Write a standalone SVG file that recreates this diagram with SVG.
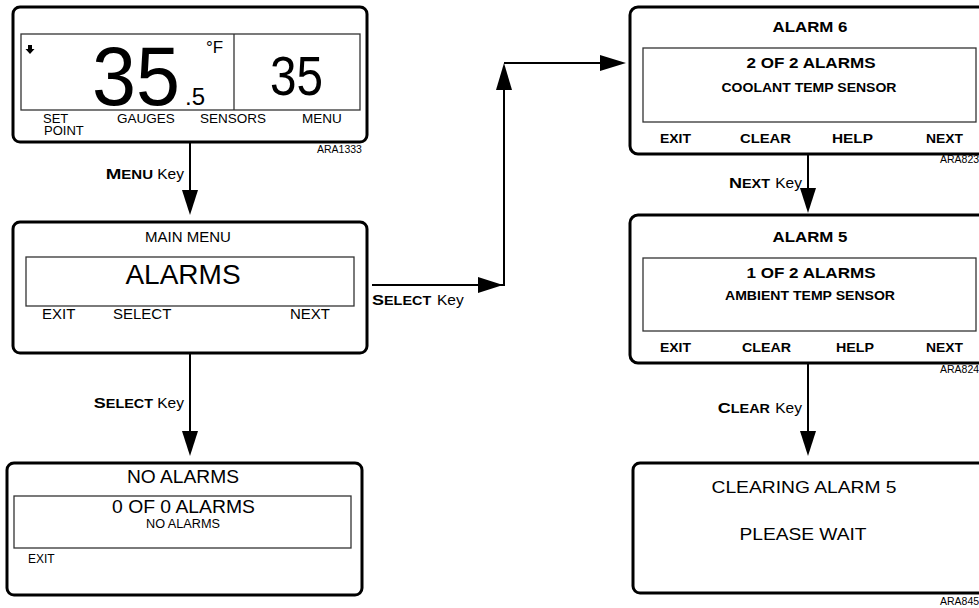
<svg xmlns="http://www.w3.org/2000/svg" width="979" height="608" viewBox="0 0 979 608">
<defs>
<style>
.outer{fill:#fff;stroke:#000;stroke-width:3}
.inner{fill:none;stroke:#333;stroke-width:1.3}
.t{font-family:"Liberation Sans",Arial,sans-serif;fill:#000}
.b{font-weight:bold}
.mid{text-anchor:middle}
.end{text-anchor:end}
.ara{font-family:"Liberation Sans",Arial,sans-serif;font-size:10.5px;fill:#000}
.ln{fill:none;stroke:#000;stroke-width:2}
.head{fill:#000}
.key{font-family:"Liberation Sans",Arial,sans-serif;font-size:15.5px;fill:#000}
.kb{font-family:"Liberation Sans",Arial,sans-serif;font-weight:bold;fill:#000}
.cap{font-size:15px}
.sc{font-size:12px}
</style>
</defs>
<rect width="979" height="608" fill="#fff"/>

<g id="connectors">
  <line class="ln" x1="190" y1="143" x2="190" y2="195"/>
  <polygon class="head" points="182,190 198,190 190,215"/>
  <line class="ln" x1="190" y1="353" x2="190" y2="435"/>
  <polygon class="head" points="182,431 198,431 190,456"/>
  <polyline class="ln" points="372,285 504,285 504,70"/>
  <polygon class="head" points="478,277 478,293 503,285"/>
  <polygon class="head" points="496,90 512,90 504,63"/>
  <line class="ln" x1="504" y1="63" x2="605" y2="63"/>
  <polygon class="head" points="600,55 600,71 626,63"/>
  <line class="ln" x1="808" y1="154" x2="808" y2="192"/>
  <polygon class="head" points="800,188 816,188 808,213"/>
  <line class="ln" x1="808" y1="363" x2="808" y2="436"/>
  <polygon class="head" points="800,431 816,431 808,456"/>

  <text class="kb end" transform="translate(153,179) scale(1.25,1)"><tspan class="cap">M</tspan><tspan class="sc">ENU</tspan></text>
  <text class="key end" x="184" y="179">Key</text>

  <text class="kb end" transform="translate(153,408) scale(1.2,1)"><tspan class="cap">S</tspan><tspan class="sc">ELECT</tspan></text>
  <text class="key end" x="184" y="408">Key</text>

  <text class="kb" transform="translate(372,305) scale(1.2,1)"><tspan class="cap">S</tspan><tspan class="sc">ELECT</tspan></text>
  <text class="key" x="437" y="305">Key</text>

  <text class="kb end" transform="translate(770,188) scale(1.2,1)"><tspan class="cap">N</tspan><tspan class="sc">EXT</tspan></text>
  <text class="key end" x="802" y="188">Key</text>

  <text class="kb end" transform="translate(770,413) scale(1.2,1)"><tspan class="cap">C</tspan><tspan class="sc">LEAR</tspan></text>
  <text class="key end" x="802" y="413">Key</text>
</g>

<g id="display-home">
  <rect class="outer" x="13" y="7" width="354" height="135" rx="7"/>
  <rect class="inner" x="21" y="34" width="339" height="76"/>
  <line class="inner" x1="234" y1="34" x2="234" y2="110"/>
  <polygon fill="#000" points="28,45 32,45 32,49 34.5,49 30,54 25.5,49 28,49"/>
  <text class="t" x="92" y="105" font-size="84" textLength="88" lengthAdjust="spacingAndGlyphs">35</text>
  <text class="t" x="185" y="105" font-size="24">.5</text>
  <text class="t" x="206" y="53" font-size="17">°F</text>
  <text class="t" x="270" y="95" font-size="56" textLength="53" lengthAdjust="spacingAndGlyphs">35</text>
  <text class="t" x="43" y="123" font-size="13">SET</text>
  <text class="t" x="44" y="135" font-size="13">POINT</text>
  <text class="t" x="117" y="123" font-size="13.5">GAUGES</text>
  <text class="t" x="200" y="123" font-size="13.5">SENSORS</text>
  <text class="t" x="302" y="123" font-size="13.5">MENU</text>
  <text class="ara" x="317" y="153">ARA1333</text>
</g>

<g id="main-menu">
  <rect class="outer" x="13" y="222" width="354" height="131" rx="7"/>
  <rect class="inner" x="26" y="257" width="328" height="49"/>
  <text class="t mid" x="188" y="242" font-size="15">MAIN MENU</text>
  <text class="t mid" x="183" y="284" font-size="28">ALARMS</text>
  <text class="t" x="42" y="319" font-size="15">EXIT</text>
  <text class="t" x="113" y="319" font-size="15">SELECT</text>
  <text class="t" x="290" y="319" font-size="15">NEXT</text>
</g>

<g id="no-alarms">
  <rect class="outer" x="7" y="463" width="355" height="132" rx="7"/>
  <rect class="inner" x="14" y="496" width="337" height="52"/>
  <text class="t mid" x="183" y="483" font-size="18" textLength="112" lengthAdjust="spacingAndGlyphs">NO ALARMS</text>
  <text class="t mid" x="183.5" y="513" font-size="18" textLength="143" lengthAdjust="spacingAndGlyphs">0 OF 0 ALARMS</text>
  <text class="t mid" x="183" y="528" font-size="12" textLength="74" lengthAdjust="spacingAndGlyphs">NO ALARMS</text>
  <text class="t" x="28" y="563" font-size="12">EXIT</text>
</g>

<g id="alarm-6">
  <rect class="outer" x="630" y="7" width="360" height="147" rx="8"/>
  <rect class="inner" x="643" y="48" width="333" height="74"/>
  <text class="t b mid" x="810" y="32" font-size="14.5" textLength="75" lengthAdjust="spacingAndGlyphs">ALARM 6</text>
  <text class="t b mid" x="811" y="68" font-size="14.5" textLength="129" lengthAdjust="spacingAndGlyphs">2 OF 2 ALARMS</text>
  <text class="t b mid" x="809" y="92" font-size="12" textLength="175" lengthAdjust="spacingAndGlyphs">COOLANT TEMP SENSOR</text>
  <text class="t b" x="660" y="143" font-size="13.5" textLength="31" lengthAdjust="spacingAndGlyphs">EXIT</text>
  <text class="t b" x="740" y="143" font-size="13.5" textLength="51" lengthAdjust="spacingAndGlyphs">CLEAR</text>
  <text class="t b" x="832" y="143" font-size="13.5" textLength="41" lengthAdjust="spacingAndGlyphs">HELP</text>
  <text class="t b" x="926" y="143" font-size="13.5" textLength="37" lengthAdjust="spacingAndGlyphs">NEXT</text>
  <text class="ara" x="940" y="163">ARA823</text>
</g>

<g id="alarm-5">
  <rect class="outer" x="630" y="215" width="360" height="148" rx="8"/>
  <rect class="inner" x="643" y="258" width="333" height="73"/>
  <text class="t b mid" x="810" y="242" font-size="14.5" textLength="75" lengthAdjust="spacingAndGlyphs">ALARM 5</text>
  <text class="t b mid" x="811" y="278" font-size="14.5" textLength="129" lengthAdjust="spacingAndGlyphs">1 OF 2 ALARMS</text>
  <text class="t b mid" x="810" y="300" font-size="12" textLength="170" lengthAdjust="spacingAndGlyphs">AMBIENT TEMP SENSOR</text>
  <text class="t b" x="660" y="352" font-size="13.5" textLength="31" lengthAdjust="spacingAndGlyphs">EXIT</text>
  <text class="t b" x="742" y="352" font-size="13.5" textLength="49" lengthAdjust="spacingAndGlyphs">CLEAR</text>
  <text class="t b" x="836" y="352" font-size="13.5" textLength="38" lengthAdjust="spacingAndGlyphs">HELP</text>
  <text class="t b" x="926" y="352" font-size="13.5" textLength="37" lengthAdjust="spacingAndGlyphs">NEXT</text>
  <text class="ara" x="940" y="373">ARA824</text>
</g>

<g id="clearing">
  <rect class="outer" x="633" y="463" width="357" height="130" rx="7"/>
  <text class="t mid" x="804" y="493" font-size="16" textLength="185" lengthAdjust="spacingAndGlyphs">CLEARING ALARM 5</text>
  <text class="t mid" x="803" y="540" font-size="16" textLength="127" lengthAdjust="spacingAndGlyphs">PLEASE WAIT</text>
  <text class="ara" x="940" y="605">ARA845</text>
</g>
</svg>
